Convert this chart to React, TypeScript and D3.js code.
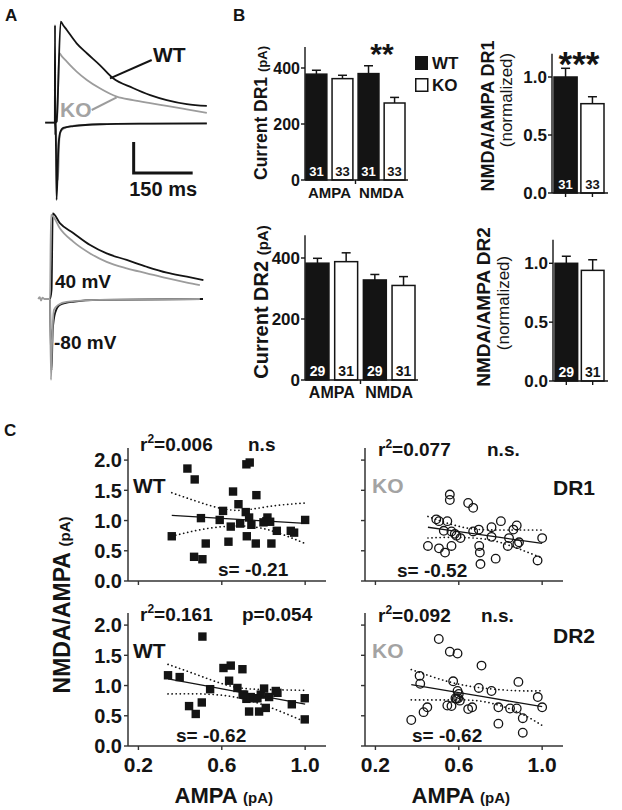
import React from "react";
import * as d3 from "d3";

const FONT = "'Liberation Sans', Arial, Helvetica, sans-serif";
const INK = "#141414";
const GRAY = "#9c9c9c";
const KO_TEXT = "#a3a3a3";

// ---------- Panel A: example traces, time (ms) vs current (pA) ----------
const topWT40: [number, number][] = [[-25, 0], [-0.5, 0], [0, 315], [0.8, -40], [2, 0], [4, 4], [14.5, 326], [20, 316], [30, 299], [55, 256], [81, 224], [114, 186], [147, 144], [198, 112], [242, 89], [284, 73], [335, 60], [386, 54]];
const topKO40: [number, number][] = [[-25, 0], [0, 0], [5, 4], [11, 224], [18, 213], [30, 197], [55, 165], [81, 138], [114, 111], [157, 84], [198, 73], [242, 63], [284, 54], [335, 43], [386, 32]];
const topWT80: [number, number][] = [[0, 0], [2, -40], [4, -249], [8.4, -88], [12.7, -33], [21, -17], [47, -11], [114, -5], [242, -3], [386, -2]];
const topKO80: [number, number][] = [[0, 0], [4, -60], [7.6, -185], [11, -56], [15, -27], [30, -14], [64, -8], [165, -4], [386, -3]];
const botWT40: [number, number][] = [[-5, 0], [0, 0], [4, 30], [7, 276], [25, 245], [59, 213], [102, 174], [144, 147], [195, 126], [246, 104], [297, 85], [348, 72], [390, 61]];
const botKO40: [number, number][] = [[-30, 0], [-26, 6], [-23, -5], [-19, 4], [-14, 0], [0, 0], [2.5, 271], [7, 268], [25, 228], [59, 185], [102, 147], [144, 120], [195, 99], [246, 83], [297, 67], [348, 53], [381, 45]];
const botWT80: [number, number][] = [[0, 0], [4, -230], [7, -100], [13, -45], [25, -19], [58, -9], [127, -3], [389, 0]];
const botKO80: [number, number][] = [[0, 0], [2.5, -261], [5, -150], [10, -35], [21, -19], [42, -9], [127, -3], [381, 0]];

// ---------- Panel B ----------
const receptorTypes = ["AMPA", "NMDA"];
const genotypes = ["WT", "KO"];
const dr1CurrentMean = [[378, 362], [380, 275]];
const dr1CurrentSem = [[14, 12], [28, 20]];
const dr1N = [31, 33];
const dr1RatioMean = [1.0, 0.77];
const dr1RatioSem = [0.075, 0.06];
const dr2CurrentMean = [[383, 388], [328, 310]];
const dr2CurrentSem = [[16, 29], [18, 29]];
const dr2N = [29, 31];
const dr2RatioMean = [1.0, 0.94];
const dr2RatioSem = [0.06, 0.09];
const currentTicks = [0, 200, 400];
const ratioTicks = [0, 0.5, 1.0];

// ---------- Panel C: AMPA (x) vs NMDA/AMPA (y) ----------
const wtDR1Ampa = [0.36, 0.435, 0.47, 0.5, 0.467, 0.507, 0.523, 0.59, 0.606, 0.632, 0.643, 0.654, 0.68, 0.688, 0.715, 0.718, 0.734, 0.72, 0.731, 0.742, 0.763, 0.766, 0.814, 0.819, 0.832, 0.838, 0.864, 0.931, 0.947, 1.0, 0.8];
const wtDR1Ratio = [0.74, 1.86, 1.68, 1.04, 0.4, 0.36, 0.62, 1.01, 1.16, 0.65, 0.9, 1.48, 1.27, 0.95, 1.14, 1.93, 1.96, 0.74, 1.05, 0.93, 0.62, 1.42, 0.99, 1.05, 0.98, 0.62, 0.83, 0.83, 0.8, 1.01, 0.97];
const koDR1Ampa = [0.452, 0.492, 0.505, 0.505, 0.528, 0.534, 0.545, 0.557, 0.557, 0.565, 0.565, 0.581, 0.589, 0.608, 0.645, 0.669, 0.669, 0.696, 0.698, 0.701, 0.704, 0.757, 0.757, 0.777, 0.802, 0.835, 0.841, 0.862, 0.878, 0.881, 0.889, 0.978, 1.0];
const koDR1Ratio = [0.58, 1.02, 0.99, 0.54, 0.83, 0.47, 0.99, 1.43, 1.34, 0.58, 0.82, 0.78, 0.75, 0.71, 1.29, 1.21, 0.82, 0.85, 0.58, 0.47, 0.28, 0.89, 0.73, 0.37, 0.99, 0.58, 0.71, 0.85, 0.92, 0.61, 0.64, 0.34, 0.71];
const wtDR2Ampa = [0.342, 0.398, 0.443, 0.475, 0.504, 0.507, 0.544, 0.608, 0.635, 0.643, 0.675, 0.699, 0.707, 0.718, 0.731, 0.739, 0.755, 0.779, 0.787, 0.803, 0.811, 0.827, 0.859, 0.867, 0.936, 0.998, 0.998, 0.771, 0.7];
const wtDR2Ratio = [1.17, 1.14, 0.66, 0.53, 0.72, 1.81, 0.94, 1.29, 1.08, 1.33, 0.96, 1.27, 0.85, 0.78, 0.57, 0.81, 0.79, 0.57, 0.85, 0.95, 0.63, 0.81, 0.91, 0.88, 0.69, 0.79, 0.44, 0.79, 0.85];
const koDR2Ampa = [0.372, 0.412, 0.415, 0.431, 0.449, 0.504, 0.545, 0.557, 0.565, 0.573, 0.584, 0.594, 0.594, 0.597, 0.605, 0.645, 0.664, 0.696, 0.709, 0.757, 0.79, 0.79, 0.846, 0.878, 0.886, 0.907, 0.907, 0.979, 1.0, 0.59, 0.6];
const koDR2Ratio = [0.43, 1.16, 1.03, 0.56, 0.64, 1.77, 0.67, 1.56, 0.66, 1.07, 0.79, 1.53, 0.91, 0.79, 0.75, 0.61, 0.64, 0.96, 1.33, 0.91, 0.64, 0.37, 0.62, 0.62, 1.06, 0.46, 0.22, 0.81, 0.64, 0.78, 0.86];

// linear fits and 95% bands
const wtDR1Fit = { x: [0.36, 0.5, 0.66, 0.82, 1.0], fit: [1.085, 1.056, 1.023, 0.99, 0.953], up: [1.46, 1.295, 1.17, 1.23, 1.29], lo: [0.74, 0.85, 0.91, 0.85, 0.62] };
const koDR1Fit = { x: [0.452, 0.557, 0.669, 0.798, 1.0], fit: [0.889, 0.838, 0.783, 0.72, 0.622], up: [1.067, 0.944, 0.861, 0.844, 0.844], lo: [0.711, 0.722, 0.711, 0.639, 0.38] };
const wtDR2Fit = { x: [0.342, 0.499, 0.659, 0.819, 1.0], fit: [1.111, 1.011, 0.909, 0.808, 0.694], up: [1.35, 1.156, 0.978, 0.933, 0.92], lo: [0.861, 0.861, 0.811, 0.656, 0.4] };
const koDR2Fit = { x: [0.372, 0.557, 0.717, 0.878, 1.0], fit: [1.014, 0.907, 0.815, 0.722, 0.652], up: [1.265, 1.058, 0.958, 0.914, 0.914], lo: [0.763, 0.763, 0.735, 0.568, 0.34] };
const scatterYTicks = [0, 0.5, 1.0, 1.5, 2.0];
const scatterXTicks = [0.2, 0.6, 1.0];

const txt = (size: number, bold = true) => ({ fontFamily: FONT, fontSize: size, fontWeight: bold ? 700 : 400 });

function TraceLine({ data, x, y, color, width = 1.8 }: any) {
  const line = d3.line<[number, number]>().x(d => x(d[0])).y(d => y(d[1])).curve(d3.curveMonotoneX);
  return <path d={line(data) || ""} fill="none" stroke={color} strokeWidth={width} strokeLinejoin="round" />;
}

function PanelA() {
  const xT = d3.scaleLinear().domain([0, 150]).range([55, 114]);
  const yT = d3.scaleLinear().domain([0, 100]).range([122.7, 91.7]);
  const xB = d3.scaleLinear().domain([0, 150]).range([50, 109]);
  const yB = d3.scaleLinear().domain([0, 100]).range([299, 268]);
  return (
    <g>
      <TraceLine data={topKO40} x={xT} y={yT} color={GRAY} />
      <TraceLine data={topKO80} x={xT} y={yT} color={GRAY} />
      <TraceLine data={topWT40} x={xT} y={yT} color={INK} />
      <TraceLine data={topWT80} x={xT} y={yT} color={INK} />
      <line x1={151.7} y1={60} x2={110} y2={78.3} stroke={INK} strokeWidth={2} />
      <text x={153} y={62} {...txt(21)} fill={INK}>WT</text>
      <line x1={91.7} y1={110} x2={116.7} y2={97.3} stroke={GRAY} strokeWidth={2} />
      <text x={60} y={117} {...txt(21)} fill={KO_TEXT}>KO</text>
      <path d={`M${xT(200)},${yT(-62)}V${yT(-162)}H${xT(350)}`} fill="none" stroke={INK} strokeWidth={3} />
      <text x={(xT(200) + xT(350)) / 2} y={196} textAnchor="middle" {...txt(20)} fill={INK}>150 ms</text>

      <TraceLine data={botWT40} x={xB} y={yB} color={INK} />
      <TraceLine data={botWT80} x={xB} y={yB} color={INK} />
      <TraceLine data={botKO40} x={xB} y={yB} color={GRAY} />
      <TraceLine data={botKO80} x={xB} y={yB} color={GRAY} />
      <text x={55} y={288} {...txt(19)} fill={INK}>40 mV</text>
      <text x={54} y={349} {...txt(19)} fill={INK}>-80 mV</text>
    </g>
  );
}

function CurrentBars({ ax, xEnd, y0, y400, means, sems, ns, tickFont, nFont, catFont, catY }: any) {
  const y = d3.scaleLinear().domain([0, 400]).range([y0, y400]);
  const x0 = d3.scaleBand().domain(receptorTypes).range([ax + 1, xEnd - 3]).paddingInner(0.1);
  const x1 = d3.scaleBand().domain(genotypes).range([0, x0.bandwidth()]).paddingInner(0.2);
  const midTick = (x0("AMPA")! + x0.bandwidth() + x0("NMDA")!) / 2;
  return (
    <g>
      {receptorTypes.map((r, ri) =>
        genotypes.map((g, gi) => {
          const bx = x0(r)! + x1(g)!;
          const bw = x1.bandwidth();
          const m = means[ri][gi];
          const s = sems[ri][gi];
          const cx = bx + bw / 2;
          return (
            <g key={r + g}>
              <line x1={cx} x2={cx} y1={y(m)} y2={y(m + s)} stroke={INK} strokeWidth={1.5} />
              <line x1={cx - 4.5} x2={cx + 4.5} y1={y(m + s)} y2={y(m + s)} stroke={INK} strokeWidth={1.5} />
              <rect x={bx} y={y(m)} width={bw} height={y(0) - y(m)} fill={gi === 0 ? INK : "#fff"} stroke={INK} strokeWidth={1.5} />
              <text x={cx} y={y0 - 4} textAnchor="middle" {...txt(nFont)} fill={gi === 0 ? "#fff" : INK}>{ns[gi]}</text>
            </g>
          );
        })
      )}
      <line x1={ax} x2={ax} y1={y0} y2={y(475)} stroke={INK} strokeWidth={1.4} />
      <line x1={ax} x2={xEnd} y1={y0} y2={y0} stroke={INK} strokeWidth={1.4} />
      <line x1={midTick} x2={midTick} y1={y0} y2={y0 + 4} stroke={INK} strokeWidth={1.4} />
      {currentTicks.map(t => (
        <g key={t}>
          <line x1={ax - 4} x2={ax} y1={y(t)} y2={y(t)} stroke={INK} strokeWidth={1.4} />
          <text x={ax - 5} y={y(t)} dy="0.36em" textAnchor="end" {...txt(tickFont)} fill={INK}>{t}</text>
        </g>
      ))}
      {receptorTypes.map(r => (
        <text key={r} x={x0(r)! + x0.bandwidth() / 2} y={catY} textAnchor="middle" {...txt(catFont)} fill={INK}>{r}</text>
      ))}
    </g>
  );
}

function RatioBars({ ax, xEnd, y0, y1, means, sems, ns, tickFont, nFont }: any) {
  const y = d3.scaleLinear().domain([0, 1]).range([y0, y1]);
  const x = d3.scaleBand().domain(genotypes).range([ax + 2, xEnd - 4]).paddingInner(0.14);
  return (
    <g>
      {genotypes.map((g, gi) => {
        const bx = x(g)!;
        const bw = x.bandwidth();
        const cx = bx + bw / 2;
        const m = means[gi];
        const s = sems[gi];
        return (
          <g key={g}>
            <line x1={cx} x2={cx} y1={y(m)} y2={y(m + s)} stroke={INK} strokeWidth={1.5} />
            <line x1={cx - 4.5} x2={cx + 4.5} y1={y(m + s)} y2={y(m + s)} stroke={INK} strokeWidth={1.5} />
            <rect x={bx} y={y(m)} width={bw} height={y(0) - y(m)} fill={gi === 0 ? INK : "#fff"} stroke={INK} strokeWidth={1.5} />
            <text x={cx} y={y0 - 4} textAnchor="middle" {...txt(nFont)} fill={gi === 0 ? "#fff" : INK}>{ns[gi]}</text>
            <line x1={cx} x2={cx} y1={y0} y2={y0 + 4} stroke={INK} strokeWidth={1.4} />
          </g>
        );
      })}
      <line x1={ax} x2={ax} y1={y0} y2={y(1.2)} stroke={INK} strokeWidth={1.4} />
      <line x1={ax} x2={xEnd} y1={y0} y2={y0} stroke={INK} strokeWidth={1.4} />
      {ratioTicks.map(t => (
        <g key={t}>
          <line x1={ax - 4} x2={ax} y1={y(t)} y2={y(t)} stroke={INK} strokeWidth={1.4} />
          <text x={ax - 5} y={y(t)} dy="0.36em" textAnchor="end" {...txt(tickFont)} fill={INK}>{t.toFixed(1)}</text>
        </g>
      ))}
    </g>
  );
}

function Scatter({ ax, y0, xs, ys, fit, marker, yLabels, xLabels }: any) {
  const x = d3.scaleLinear().domain([0.15, 1.1]).range([ax, ax + 198]);
  const y = d3.scaleLinear().domain([0, 2.2]).range([y0, y0 - 133]);
  const pts = fit.x.map((v: number, i: number) => i);
  const mk = (key: "fit" | "up" | "lo", curve: any) =>
    d3.line<number>().x(i => x(fit.x[i])).y(i => y(fit[key][i])).curve(curve)(pts) || "";
  return (
    <g>
      <path d={mk("up", d3.curveNatural)} fill="none" stroke={INK} strokeWidth={1.7} strokeDasharray="0.1,4" strokeLinecap="round" />
      <path d={mk("lo", d3.curveNatural)} fill="none" stroke={INK} strokeWidth={1.7} strokeDasharray="0.1,4" strokeLinecap="round" />
      {xs.map((v: number, i: number) =>
        marker === "square" ? (
          <rect key={i} x={x(v) - 4.2} y={y(ys[i]) - 4.2} width={8.4} height={8.4} fill={INK} />
        ) : (
          <circle key={i} cx={x(v)} cy={y(ys[i])} r={4.3} fill="none" stroke={INK} strokeWidth={1.3} />
        )
      )}
      <path d={mk("fit", d3.curveLinear)} fill="none" stroke={INK} strokeWidth={1.3} />
      <line x1={ax} x2={ax} y1={y0} y2={y(2.2)} stroke="#333" strokeWidth={1.5} />
      <line x1={ax} x2={ax + 198} y1={y0} y2={y0} stroke="#333" strokeWidth={1.5} />
      {scatterYTicks.map(t => (
        <g key={t}>
          <line x1={ax - 4} x2={ax} y1={y(t)} y2={y(t)} stroke="#333" strokeWidth={1.4} />
          {yLabels && (
            <text x={ax - 6} y={y(t)} dy="0.36em" textAnchor="end" {...txt(20)} fill={INK}>{t.toFixed(1)}</text>
          )}
        </g>
      ))}
      {scatterXTicks.map(t => (
        <g key={t}>
          <line x1={x(t)} x2={x(t)} y1={y0} y2={y0 + 4} stroke="#333" strokeWidth={1.4} />
          {xLabels && (
            <text x={x(t)} y={y0 + 26} textAnchor="middle" {...txt(21)} fill={INK}>{t.toFixed(1)}</text>
          )}
        </g>
      ))}
      {xLabels && (
        <text x={x(0.6) + 2} y={y0 + 57} textAnchor="middle" fill={INK}>
          <tspan {...txt(22)}>AMPA </tspan>
          <tspan {...txt(15)}>(pA)</tspan>
        </text>
      )}
    </g>
  );
}

function RSq({ x, y, val }: any) {
  return (
    <text x={x} y={y} {...txt(19)} fill={INK}>
      r<tspan dy={-8} fontSize={12}>2</tspan>
      <tspan dy={8}>={val}</tspan>
    </text>
  );
}

export default function App() {
  return (
    <svg width={622} height={810} style={{ position: "absolute", left: 0, top: 0, background: "#fff" }} fontFamily={FONT}>
      <rect width={622} height={810} fill="#fff" />
      <text x={5} y={21} {...txt(17)} fill={INK}>A</text>
      <text x={233} y={21} {...txt(17)} fill={INK}>B</text>
      <text x={4} y={436} {...txt(17)} fill={INK}>C</text>

      <PanelA />

      {/* Panel B, DR1 */}
      <CurrentBars ax={305} xEnd={408} y0={180} y400={68} means={dr1CurrentMean} sems={dr1CurrentSem} ns={dr1N} tickFont={16} nFont={13} catFont={15} catY={198} />
      <text transform="translate(267,113) rotate(-90)" textAnchor="middle" fill={INK}>
        <tspan {...txt(17.5)}>Current DR1 </tspan>
        <tspan {...txt(13)}>(pA)</tspan>
      </text>
      <text x={382} y={64} textAnchor="middle" {...txt(30)} fill={INK}>**</text>
      <rect x={415} y={56} width={13} height={14} fill={INK} />
      <rect x={415.75} y={78.75} width={12} height={12.5} fill="#fff" stroke={INK} strokeWidth={1.5} />
      <text x={432} y={69} {...txt(17)} fill={INK}>WT</text>
      <text x={432} y={91} {...txt(17)} fill={INK}>KO</text>

      <RatioBars ax={552} xEnd={608} y0={193} y1={77} means={dr1RatioMean} sems={dr1RatioSem} ns={dr1N} tickFont={17} nFont={13} />
      <text transform="translate(494,116) rotate(-90)" textAnchor="middle" {...txt(18)} fill={INK}>NMDA/AMPA DR1</text>
      <text transform="translate(512,100) rotate(-90)" textAnchor="middle" {...txt(17, false)} fill={INK}>(normalized)</text>
      <text x={579} y={76} textAnchor="middle" {...txt(35)} fill={INK}>***</text>

      {/* Panel B, DR2 */}
      <CurrentBars ax={305} xEnd={418} y0={380} y400={258} means={dr2CurrentMean} sems={dr2CurrentSem} ns={dr2N} tickFont={17} nFont={14} catFont={16} catY={398} />
      <text transform="translate(268,302) rotate(-90)" textAnchor="middle" fill={INK}>
        <tspan {...txt(20)}>Current DR2 </tspan>
        <tspan {...txt(15)}>(pA)</tspan>
      </text>
      <RatioBars ax={553} xEnd={608} y0={381} y1={263.3} means={dr2RatioMean} sems={dr2RatioSem} ns={dr2N} tickFont={17} nFont={14} />
      <text transform="translate(490,307) rotate(-90)" textAnchor="middle" {...txt(19)} fill={INK}>NMDA/AMPA DR2</text>
      <text transform="translate(509,303) rotate(-90)" textAnchor="middle" {...txt(17, false)} fill={INK}>(normalized)</text>

      {/* Panel C */}
      <text transform="translate(70,605) rotate(-90)" textAnchor="middle" fill={INK}>
        <tspan {...txt(23)}>NMDA/AMPA </tspan>
        <tspan {...txt(15)}>(pA)</tspan>
      </text>

      <Scatter ax={128} y0={581} xs={wtDR1Ampa} ys={wtDR1Ratio} fit={wtDR1Fit} marker="square" yLabels xLabels={false} />
      <RSq x={140} y={451} val="0.006" />
      <text x={248} y={451} {...txt(19)} fill={INK}>n.s</text>
      <text x={133} y={493} {...txt(21)} fill={INK}>WT</text>
      <text x={218} y={576} {...txt(19)} fill={INK}>s= -0.21</text>

      <Scatter ax={365} y0={581} xs={koDR1Ampa} ys={koDR1Ratio} fit={koDR1Fit} marker="circle" yLabels={false} xLabels={false} />
      <RSq x={378} y={456} val="0.077" />
      <text x={487} y={456} {...txt(19)} fill={INK}>n.s.</text>
      <text x={372} y={493} {...txt(21)} fill={KO_TEXT}>KO</text>
      <text x={553} y={495} {...txt(21)} fill={INK}>DR1</text>
      <text x={397} y={577} {...txt(19)} fill={INK}>s= -0.52</text>

      <Scatter ax={128} y0={746} xs={wtDR2Ampa} ys={wtDR2Ratio} fit={wtDR2Fit} marker="square" yLabels xLabels />
      <RSq x={140} y={621} val="0.161" />
      <text x={242} y={621} {...txt(19)} fill={INK}>p=0.054</text>
      <text x={133} y={658} {...txt(21)} fill={INK}>WT</text>
      <text x={176} y={742} {...txt(19)} fill={INK}>s= -0.62</text>

      <Scatter ax={365} y0={746} xs={koDR2Ampa} ys={koDR2Ratio} fit={koDR2Fit} marker="circle" yLabels={false} xLabels />
      <RSq x={378} y={622} val="0.092" />
      <text x={481} y={622} {...txt(19)} fill={INK}>n.s.</text>
      <text x={553} y={643} {...txt(21)} fill={INK}>DR2</text>
      <text x={372} y={658} {...txt(21)} fill={KO_TEXT}>KO</text>
      <text x={412} y={742} {...txt(19)} fill={INK}>s= -0.62</text>
    </svg>
  );
}
